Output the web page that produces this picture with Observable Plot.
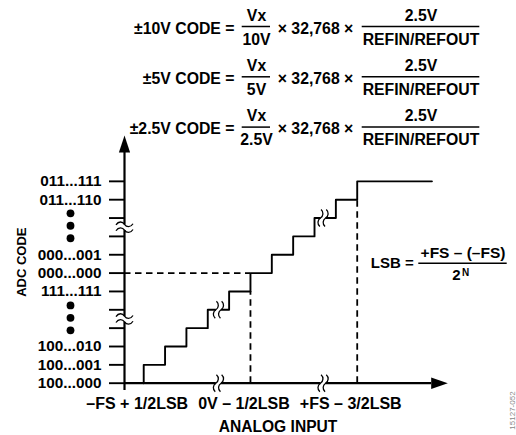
<!DOCTYPE html>
<html><head><meta charset="utf-8">
<script src="https://cdn.jsdelivr.net/npm/d3@7"></script>
<script src="https://cdn.jsdelivr.net/npm/@observablehq/plot@0.6"></script>
<style>body{margin:0;background:#fff}svg{display:block}</style>
</head><body><div id="chart"></div>
<script>
// ---- data ----
const codeLevels = [0, 1, 2, 3, 4, 5, 6, 7, 8, 9, 10, 11];
const codeLabels = ["100...000", "100...001", "100...010", "", "", "111...111",
                    "000...000", "000...001", "", "", "011...110", "011...111"];
const stairX = [0.9, 1.9, 2.9, 3.9, 4.9, 5.9, 6.9, 7.9, 8.9, 9.9, 10.9, 14.4];
const stairY = [0, 1, 2, 3, 4, 5, 6, 7, 8, 9, 10, 11];
const inputTicks = [0.9, 5.9, 10.9];
const inputLabels = ["\u2013FS + 1/2LSB", "0V \u2013 1/2LSB", "+FS \u2013 3/2LSB"];
const midCode = 6;            // 000...000
const midX = 5.9, topX = 10.9, topLevel = 10, midLevel = 5;
const axisBreakY = [3.5, 8.5];
const axisBreakX = [4.4, 9.3];
const stairBreakX = [4.4, 9.3];
const stairBreakY = [4, 9];
const ellipsisY = [2.88, 3.56, 4.24, 7.9, 8.58, 9.26];
const rangeNames = ["\u00b110V", "\u00b15V", "\u00b12.5V"];
const rangeDen = ["10V", "5V", "2.5V"];
const numerator = "Vx";
const fullScale = "32,768";
const refNum = "2.5V";
const refDen = "REFIN/REFOUT";

// ---- geometry helpers (pixel -> data for annotations) ----
const W = 516, H = 435;
const X0 = 124, XU = 21.35, Y0 = 382.7, YU = 18.35;
const XMAX = 15.15, YMAX = 13.5;
const px = p => (p - X0) / XU;
const py = p => (Y0 - p) / YU;

const B = {fontWeight: "bold"};
const FS = 15.8;

const wiggleV = {draw(c) { for (const d of [-2.6, 2.6]) {
  c.moveTo(d + 0.6, -8.5);
  c.bezierCurveTo(d + 3.4, -6, d + 3, -2, d, 0);
  c.bezierCurveTo(d - 3, 2, d - 3.4, 6, d - 0.6, 8.5);
}}};
const gapV = {draw(c) { c.rect(-2.6, -3, 5.2, 6); }};
const wiggleH = {draw(c) { for (const d of [-2.9, 2.9]) {
  c.moveTo(-8.5, d + 0.6);
  c.bezierCurveTo(-6, d - 3.4, -2, d - 3, 0, d);
  c.bezierCurveTo(2, d + 3, 6, d + 3.4, 8.5, d - 0.6);
}}};
const gapH = {draw(c) { c.rect(-3, -2.9, 6, 5.8); }};
const arrowUp = {draw(c) { c.moveTo(0, -17); c.lineTo(5.6, 0); c.lineTo(-5.6, 0); c.closePath(); }};
const arrowRight = {draw(c) { c.moveTo(16.6, 0); c.lineTo(0, -5.8); c.lineTo(0, 5.8); c.closePath(); }};

const fracY = i => 26 + 50.3 * i;

const chart = Plot.plot({
  width: W, height: H,
  marginLeft: X0, marginRight: W - (X0 + XMAX * XU),
  marginTop: Y0 - YMAX * YU, marginBottom: H - Y0,
  x: {domain: [0, XMAX], axis: null},
  y: {domain: [0, YMAX], axis: null},
  style: {fontFamily: "'Liberation Sans', Arial, Helvetica, sans-serif", background: "#fff", color: "#000"},
  marks: [
    // dashed guides
    Plot.ruleY([midCode], {x1: 0, x2: midX, strokeWidth: 1.8, strokeDasharray: "6.5,4.5"}),
    Plot.ruleX([midX], {y1: 0, y2: midLevel, strokeWidth: 1.8, strokeDasharray: "6.5,4.5"}),
    Plot.ruleX([topX], {y1: 0, y2: topLevel, strokeWidth: 1.8, strokeDasharray: "6.5,4.5"}),
    // staircase
    Plot.line(stairX, {x: stairX, y: stairY, curve: "step-before", strokeWidth: 1.9, stroke: "#000"}),
    // axes
    Plot.ruleX([0], {y1: py(390), y2: py(152), strokeWidth: 2.2}),
    Plot.ruleY([0], {x1: 0, x2: px(431), strokeWidth: 2.2}),
    Plot.axisY({ticks: codeLevels, tickFormat: d => codeLabels[d], tickSize: 15, tickPadding: 8,
      strokeWidth: 1.9, fontSize: 15.3, fontWeight: "bold", label: null}),
    Plot.dot([0], {x: 0, y: py(152), symbol: arrowUp, fill: "#000", stroke: "none"}),
    Plot.dot([0], {x: px(430.7), y: 0, symbol: arrowRight, fill: "#000", stroke: "none"}),
    // ellipsis dots
    Plot.dot(ellipsisY, {x: px(70), y: d => d, r: 3.9, fill: "#000", stroke: "none"}),
    // breaks
    Plot.dot(axisBreakY, {x: 0, y: d => d, symbol: gapH, fill: "#fff", stroke: "none"}),
    Plot.dot(axisBreakY, {x: 0, y: d => d, symbol: wiggleH, fill: "none", stroke: "#000", strokeWidth: 1.3}),
    Plot.dot(axisBreakX, {x: d => d, y: 0, symbol: gapV, fill: "#fff", stroke: "none"}),
    Plot.dot(axisBreakX, {x: d => d, y: 0, symbol: wiggleV, fill: "none", stroke: "#000", strokeWidth: 1.3}),
    Plot.dot(stairBreakX, {x: d => d, y: (d, i) => stairBreakY[i], symbol: gapV, fill: "#fff", stroke: "none"}),
    Plot.dot(stairBreakX, {x: d => d, y: (d, i) => stairBreakY[i], symbol: wiggleV, fill: "none", stroke: "#000", strokeWidth: 1.3}),
    // x tick labels
    Plot.text(inputTicks, {x: d => d, y: 0, text: (d, i) => inputLabels[i], dx: -6.5, dy: 14,
      lineAnchor: "top", fontSize: 16, ...B}),
    Plot.text(["ANALOG INPUT"], {x: px(277.5), y: py(426), lineAnchor: "middle", fontSize: 15.6, ...B}),
    Plot.text(["ADC CODE"], {x: px(21), y: py(261.7), rotate: -90, lineAnchor: "middle", fontSize: 13, ...B}),
    // formulas
    Plot.text(rangeNames, {x: px(234), y: (d, i) => py(fracY(i) + 2), text: d => d + " CODE =",
      textAnchor: "end", lineAnchor: "middle", fontSize: FS, ...B}),
    Plot.text(rangeNames, {x: px(256), y: (d, i) => py(fracY(i) - 11), text: () => numerator,
      lineAnchor: "middle", fontSize: FS, ...B}),
    Plot.ruleY(rangeNames, {y: (d, i) => py(fracY(i)), x1: px(241.7), x2: px(270), strokeWidth: 1.5}),
    Plot.text(rangeDen, {x: px(256), y: (d, i) => py(fracY(i) + 13), text: d => d,
      lineAnchor: "middle", fontSize: FS, ...B}),
    Plot.text(rangeNames, {x: px(315), y: (d, i) => py(fracY(i) + 2), text: () => "\u00d7 " + fullScale + " \u00d7",
      lineAnchor: "middle", fontSize: FS, ...B}),
    Plot.text(rangeNames, {x: px(420.5), y: (d, i) => py(fracY(i) - 11), text: () => refNum,
      lineAnchor: "middle", fontSize: FS, ...B}),
    Plot.ruleY(rangeNames, {y: (d, i) => py(fracY(i)), x1: px(361.7), x2: px(479.3), strokeWidth: 1.5}),
    Plot.text(rangeNames, {x: px(420.5), y: (d, i) => py(fracY(i) + 13), text: () => refDen,
      lineAnchor: "middle", fontSize: FS, ...B}),
    // LSB definition
    Plot.text(["LSB ="], {x: px(413.3), y: py(262.5), textAnchor: "end", lineAnchor: "middle", fontSize: 15, ...B}),
    Plot.ruleY([0], {y: py(262.7), x1: px(418.3), x2: px(506.7), strokeWidth: 1.5}),
    Plot.text(["+FS \u2013 (\u2013FS)"], {x: px(462.5), y: py(252.5), lineAnchor: "middle", fontSize: 15.5, ...B}),
    Plot.text(["2"], {x: px(455.9), y: py(274.7), lineAnchor: "middle", fontSize: 15, ...B}),
    Plot.text(["N"], {x: px(465), y: py(272.5), lineAnchor: "middle", fontSize: 10, ...B}),
    // figure id
    Plot.text(["15127-052"], {x: px(511.5), y: py(410), rotate: -90, lineAnchor: "middle", fontSize: 8, fill: "#888"})
  ]
});
document.getElementById("chart").appendChild(chart);
</script></body></html>
